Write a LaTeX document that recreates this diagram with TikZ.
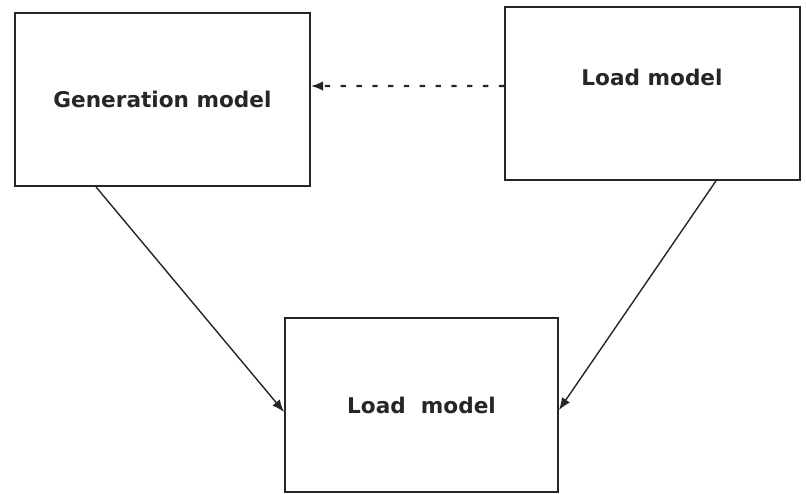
\documentclass[tikz,border=0pt]{standalone}
\usepackage{fontspec}
\setmainfont{DejaVu Sans}
\usepackage{tikz}
\usetikzlibrary{positioning,calc,arrows.meta}

\begin{document}
\begin{tikzpicture}[x=0.02cm, y=-0.02cm,
    box/.style={draw=black!85, line width=1.1pt, minimum width=5.9cm, minimum height=3.46cm, inner sep=0pt},
    lbl/.style={font=\fontsize{12.3}{14}\selectfont\bfseries, text=black!85},
    link/.style={draw=black!85, line width=0.8pt, -{Latex[length=7pt,width=5.5pt]}}]
    \useasboundingbox (0,0) rectangle (806,494);

    % the three blocks
    \node[box, lbl] (gen) at (162.5,99.5) {Generation model};
    \node[box] (loadtop) at (652.5,93.5) {};
    \node[lbl] (loadtxt) at (652,77) {Load model};
    \node[box, lbl, minimum width=5.46cm, minimum height=3.48cm] (loadbot) at (421.5,405) {Load\hspace{0.7em}model};

    % dotted feedback between the upper blocks
    \draw[link, line width=1.2pt, dash pattern=on 3pt off 6pt] ([yshift=0.15cm]loadtop.west) -- ([yshift=0.27cm]gen.east);

    % both feed the lower block
    \draw[link] ([xshift=1.64cm]gen.south west) -- ([yshift=-0.14cm]loadbot.west);
    \draw[link] ([xshift=-1.7cm]loadtop.south east) -- ([yshift=-0.1cm]loadbot.east);
\end{tikzpicture}
\end{document}
